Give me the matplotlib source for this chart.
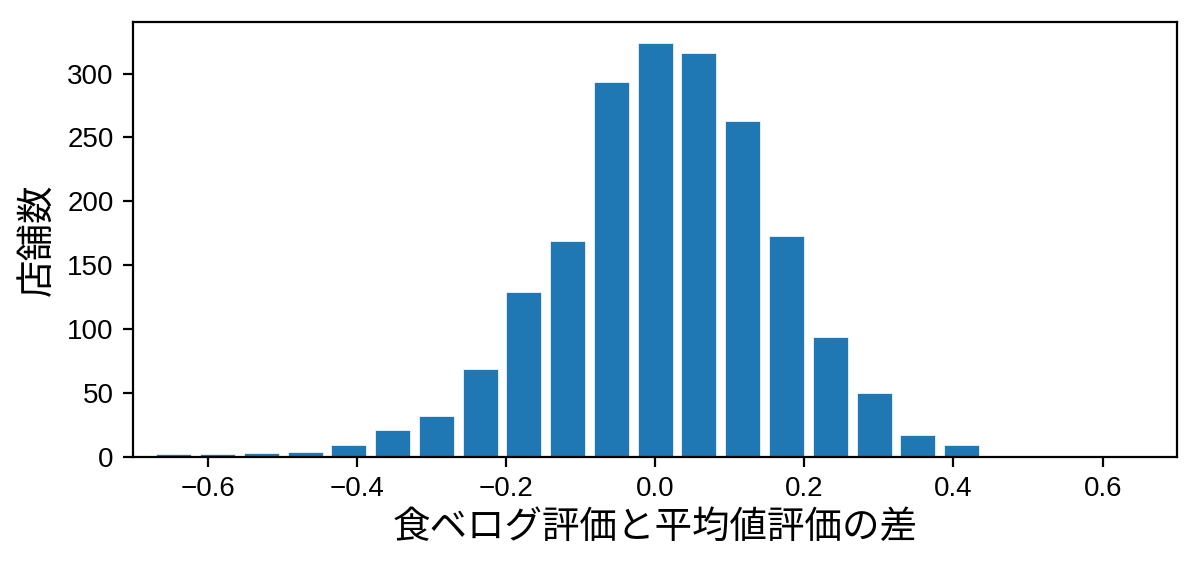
import numpy as np
from matplotlib import pyplot as plt

plt.rcParams['font.family'] = ['Noto Sans CJK JP', 'DejaVu Sans']

# ヒストグラムのビン(-0.675〜0.675 を23分割)と各ビンの店舗数
bin_edges = np.linspace(-0.675, 0.675, 24)
counts = [2, 2, 3, 4, 9, 21, 32, 69, 129, 169, 293, 324,
          316, 263, 173, 94, 50, 17, 9, 0, 1, 0, 0]

xlabel = '食ベログ評価と平均値評価の差'
ylabel = '店舗数'

fig = plt.figure(figsize=(6, 2.835), dpi=200)
ax = fig.add_axes([0.111, 0.194, 0.870, 0.767])

centers = (bin_edges[:-1] + bin_edges[1:]) / 2
width = (bin_edges[1] - bin_edges[0]) * 0.8
ax.bar(centers, counts, width=width, color='#1f77b4',
       edgecolor='white', linewidth=0.25)

ax.set_xlim(-0.7, 0.7)
ax.set_xlabel(xlabel, fontsize=13.5, labelpad=2)
ax.set_ylabel(ylabel, fontsize=13.5)
ax.tick_params(axis='both', which='major', labelsize=10)
for lbl in ax.get_xticklabels() + ax.get_yticklabels():
    lbl.set_family(['Liberation Sans', 'DejaVu Sans'])

fig.savefig('out.png', dpi=200)
